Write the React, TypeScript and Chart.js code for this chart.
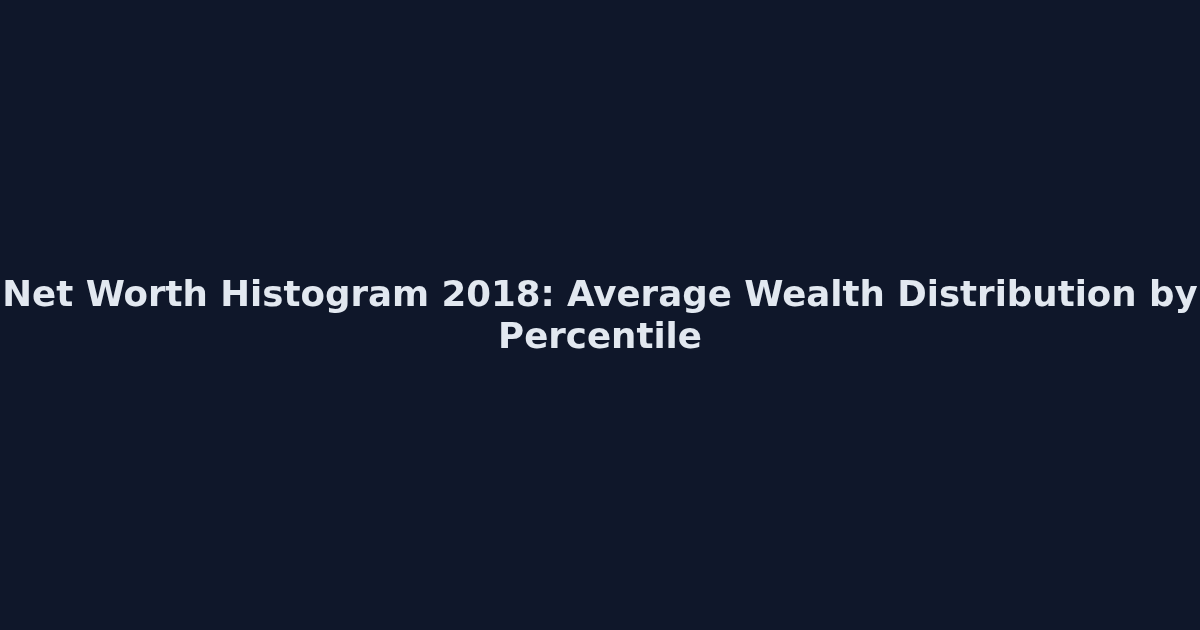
import { useEffect, useRef } from 'react';
import { Chart, registerables } from 'chart.js';

Chart.register(...registerables);

// the card only shows the title, no plotted values
const titleLines = ['Net Worth Histogram 2018: Average Wealth Distribution by', 'Percentile'];
const percentiles: string[] = [];
const avgWealth: number[] = [];

const BG = '#0f172a';
const TEXT = '#e2e8f0';

const App = () => {
  const canvasRef = useRef<HTMLCanvasElement>(null);
  const chartRef = useRef<Chart | null>(null);

  useEffect(() => {
    if (!canvasRef.current) return;
    const ctx = canvasRef.current.getContext('2d');
    if (!ctx) return;
    if (chartRef.current) chartRef.current.destroy();

    chartRef.current = new Chart(ctx, {
      type: 'bar',
      data: {
        labels: percentiles,
        datasets: [{ label: 'Average net worth', data: avgWealth, backgroundColor: TEXT }],
      },
      options: {
        responsive: true,
        maintainAspectRatio: false,
        animation: false,
        layout: { padding: { top: 276, left: 0, right: 0, bottom: 0 } },
        plugins: {
          legend: { display: false },
          tooltip: { enabled: false },
          title: {
            display: true,
            text: titleLines,
            color: TEXT,
            font: { family: '"DejaVu Sans", sans-serif', size: 35.6, weight: 'bold', lineHeight: 1.18 },
            padding: 0,
          },
        },
        scales: {
          x: { display: false },
          y: { display: false },
        },
      },
    });

    return () => {
      if (chartRef.current) {
        chartRef.current.destroy();
        chartRef.current = null;
      }
    };
  }, []);

  return (
    <div style={{ position: 'fixed', left: 0, top: 0, width: 1200, height: 630, background: BG }}>
      <canvas ref={canvasRef}></canvas>
    </div>
  );
};

export default App;
